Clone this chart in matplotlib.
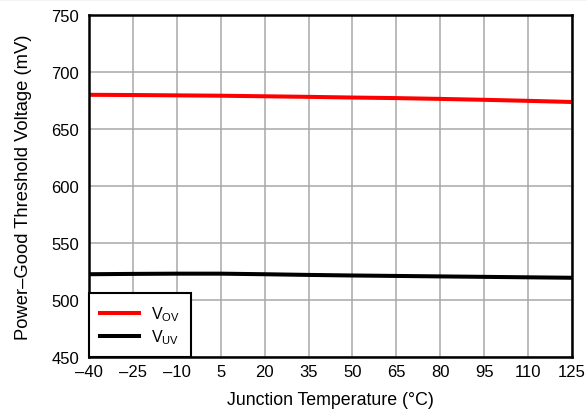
import numpy as np
import matplotlib
matplotlib.use("Agg")
import matplotlib.pyplot as plt
from matplotlib.lines import Line2D

plt.rcParams['font.family'] = ['Liberation Sans', 'DejaVu Sans']
plt.rcParams['mathtext.fontset'] = 'custom'
plt.rcParams['mathtext.rm'] = 'Liberation Sans'
plt.rcParams['mathtext.it'] = 'Liberation Sans'

# Data
temps = [-40, -25, -10, 5, 20, 35, 50, 65, 80, 95, 110, 125]
v_ov = [680.0, 679.8, 679.5, 679.2, 678.7, 678.2, 677.6, 677.1, 676.4, 675.6, 674.7, 673.7]
v_uv = [522.6, 522.9, 523.1, 523.1, 522.6, 522.0, 521.5, 521.1, 520.7, 520.3, 519.9, 519.5]
x_ticks = [-40, -25, -10, 5, 20, 35, 50, 65, 80, 95, 110, 125]
y_ticks = [450, 500, 550, 600, 650, 700, 750]

fig = plt.figure(figsize=(5.87, 4.10), dpi=100)
ax = fig.add_axes([89 / 587, 52 / 410, 483 / 587, 342 / 410])

ax.plot(temps, v_ov, color='#ff0000', lw=2.9, label=r'V$_{\rm OV}$', zorder=3)
ax.plot(temps, v_uv, color='black', lw=2.9, label=r'V$_{\rm UV}$', zorder=3)

ax.set_xlim(-40, 125)
ax.set_ylim(450, 750)
ax.set_xticks(x_ticks)
ax.set_yticks(y_ticks)
ax.set_xticklabels([str(t).replace('-', '\u2013') for t in x_ticks])
ax.tick_params(length=0, labelsize=12)
ax.tick_params(axis='x', pad=5)
ax.tick_params(axis='y', pad=7)
ax.grid(True, color='#a8a8a8', lw=1.1)
ax.set_axisbelow(True)
for s in ax.spines.values():
    s.set_linewidth(1.8)
    s.set_zorder(4)

ax.set_xlabel('Junction Temperature (°C)', fontsize=12.8, labelpad=9)
ax.set_ylabel('Power\u2013Good Threshold Voltage (mV)', fontsize=13.2, labelpad=14)

leg = ax.legend(loc='lower left', bbox_to_anchor=(0, 0), fontsize=11.5,
                frameon=True, fancybox=False, borderaxespad=0,
                handlelength=2.4, borderpad=0.7, labelspacing=0.25)
leg.get_frame().set_edgecolor('black')
leg.get_frame().set_linewidth(1.5)
leg.get_frame().set_alpha(1)

# top border line of the image
fig.add_artist(Line2D([0, 1], [0.999, 0.999], color='black', lw=1.5,
                      transform=fig.transFigure))

fig.savefig('out.png', dpi=100)
